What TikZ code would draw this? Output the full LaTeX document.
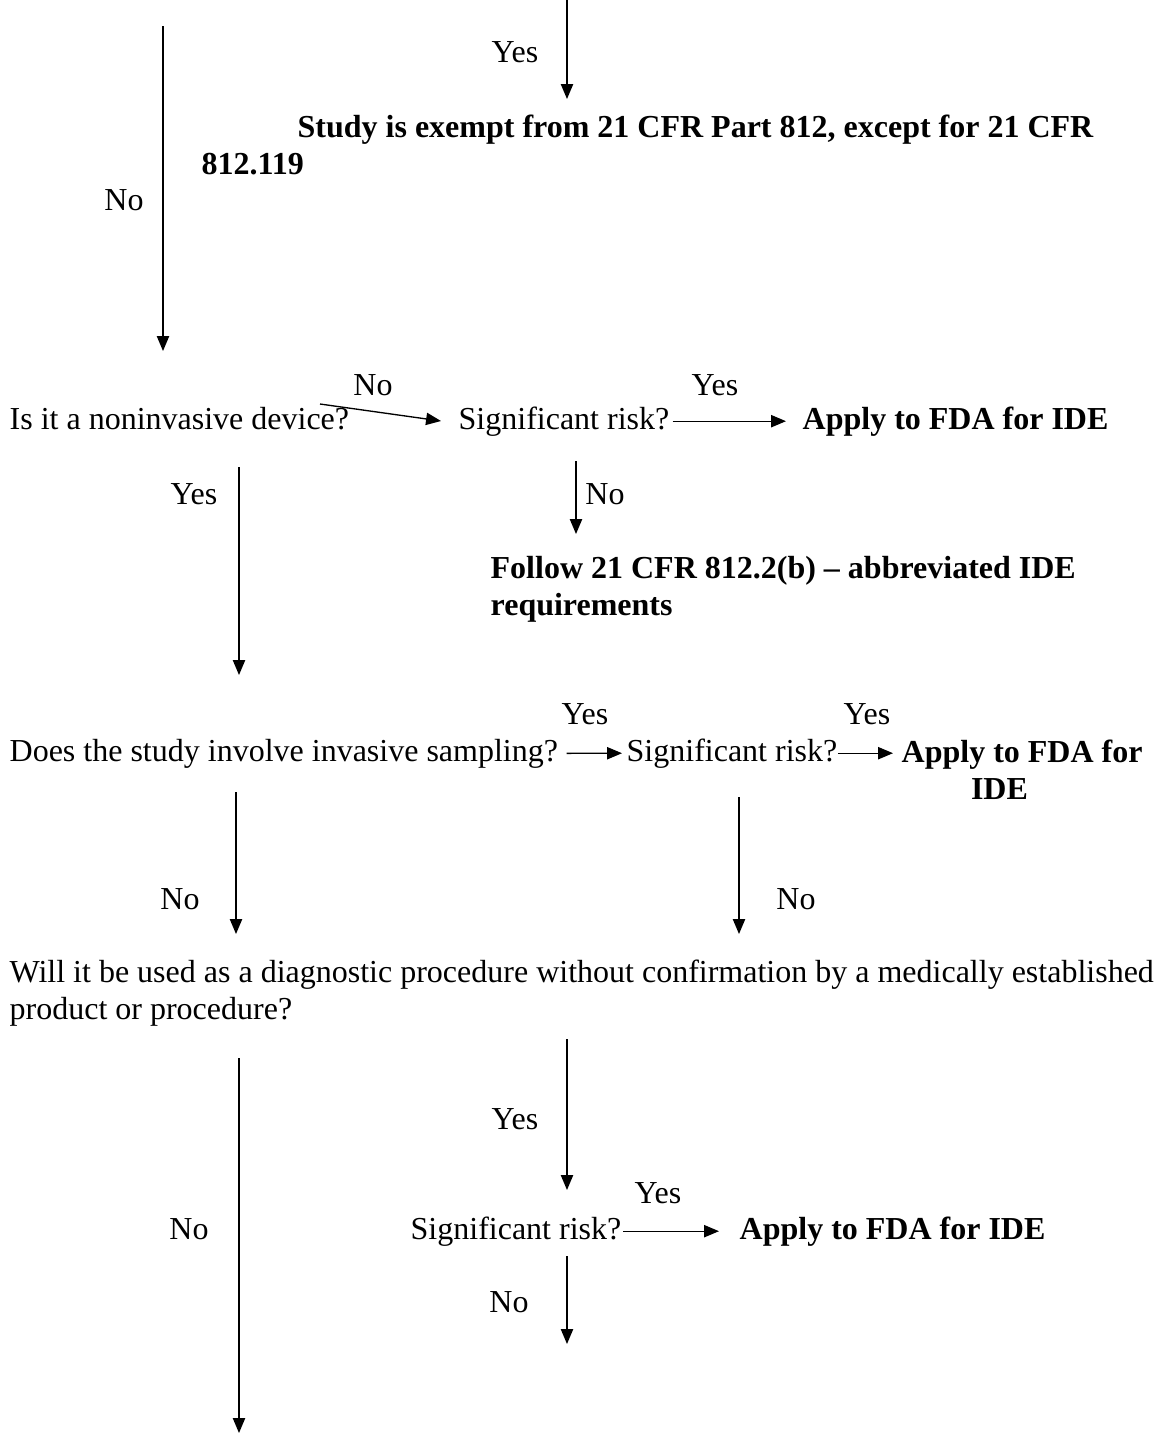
\documentclass[tikz,border=0pt]{standalone}
\usepackage{fontspec}
\setmainfont{Liberation Serif}
\usetikzlibrary{
  arrows.meta,
  positioning
}
\tikzset{
  ->,
  >={Triangle[length=5.6pt,width=4.6pt]},
  every node/.style={font=\fontsize{12pt}{13.8pt}\selectfont, inner sep=0pt},
  quest/.style={anchor=base west},
  result/.style={anchor=base west, font=\fontsize{12pt}{13.8pt}\selectfont\bfseries},
  para/.style={anchor=north west, align=left},
  lab/.style={anchor=base}
}

\begin{document}
\begin{tikzpicture}[x=0.375pt, y=-0.375pt, line width=0.5pt]
    \useasboundingbox (0,0) rectangle (1161,1436);
    % questions and results
    \node[para, font=\fontsize{12pt}{13.8pt}\selectfont\bfseries] (ex) at (201,114)
      {\hspace*{36pt}Study is exempt from 21 CFR Part 812, except for 21 CFR\\812.119};
    \node[quest] (q1) at (9,429) {Is it a noninvasive device?};
    \node[quest] (r1) at (458,429) {Significant risk?};
    \node[result] (a1) at (802,429) {Apply to FDA for IDE};
    \node[para, font=\fontsize{12pt}{13.8pt}\selectfont\bfseries] (f1) at (490,556)
      {Follow 21 CFR 812.2(b) -- abbreviated IDE\\requirements};
    \node[quest] (q2) at (9,761) {Does the study involve invasive sampling?};
    \node[quest] (r2) at (626,761) {Significant risk?};
    \node[para, font=\fontsize{12pt}{13.8pt}\selectfont\bfseries] (a2) at (901,739)
      {Apply to FDA for\\\hspace*{26pt}IDE};
    \node[para] (q3) at (9,959)
      {Will it be used as a diagnostic procedure without confirmation by a medically established\\product or procedure?};
    \node[quest] (r3) at (410,1239) {Significant risk?};
    \node[result] (a3) at (739,1239) {Apply to FDA for IDE};
    % free ends
    \coordinate (t0) at (567,0);
    \coordinate (t1) at (567,99);
    \coordinate (n0) at (163,26);
    \coordinate (n1) at (163,351);
    \coordinate (s0) at (320,404);
    \coordinate (s1) at (441,421);
    \coordinate (b0) at (576,461);
    \coordinate (b1) at (576,534);
    \coordinate (y0) at (239,467);
    \coordinate (y1) at (239,675);
    \coordinate (d0) at (236,792);
    \coordinate (d1) at (236,934);
    \coordinate (e0) at (739,797);
    \coordinate (e1) at (739,934);
    \coordinate (m0) at (239,1058);
    \coordinate (m1) at (239,1433);
    \coordinate (k0) at (567,1039);
    \coordinate (k1) at (567,1190);
    \coordinate (p0) at (567,1256);
    \coordinate (p1) at (567,1344);
    % labels
    \node[lab] (l1) at (515,62) {Yes};
    \node[lab] (l2) at (124,210) {No};
    \node[lab] (l3) at (373,395) {No};
    \node[lab] (l4) at (715,395) {Yes};
    \node[lab] (l5) at (605,504) {No};
    \node[lab] (l6) at (194,504) {Yes};
    \node[lab] (l7) at (585,724) {Yes};
    \node[lab] (l8) at (867,724) {Yes};
    \node[lab] (l9) at (180,909) {No};
    \node[lab] (l10) at (796,909) {No};
    \node[lab] (l11) at (515,1129) {Yes};
    \node[lab] (l12) at (189,1239) {No};
    \node[lab] (l13) at (658,1203) {Yes};
    \node[lab] (l14) at (509,1312) {No};
    % connectors
    \draw (t0) -- (t1);
    \draw (n0) -- (n1);
    \draw (s0) -- (s1);
    \draw[shorten <=1pt, shorten >=6pt] (r1.east) -- (r1.east -| a1.west);
    \draw (b0) -- (b1);
    \draw (y0) -- (y1);
    \draw[shorten <=3pt, shorten >=1.5pt] (q2.east) -- (r2.west);
    \draw[shorten >=3pt] (r2.east) -- (r2.east -| a2.west);
    \draw (d0) -- (d1);
    \draw (e0) -- (e1);
    \draw (m0) -- (m1);
    \draw (k0) -- (k1);
    \draw[shorten <=0.5pt, shorten >=7.5pt] (r3.east) -- (r3.east -| a3.west);
    \draw (p0) -- (p1);
  \end{tikzpicture}
\end{document}
